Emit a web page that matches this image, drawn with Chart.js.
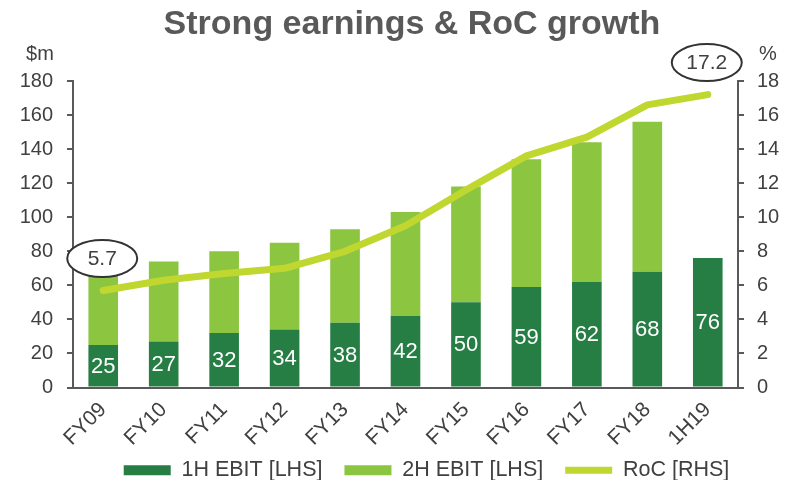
<!DOCTYPE html>
<html>
<head>
<meta charset="utf-8">
<script src="https://cdn.jsdelivr.net/npm/chart.js@4/dist/chart.umd.min.js"></script>
<style>
  html, body { margin: 0; padding: 0; background: #fff; overflow: hidden; }
  #wrap { width: 791px; height: 480px; }
</style>
</head>
<body>
<div id="wrap"><canvas id="myChart" width="791" height="480"></canvas></div>
<script>
var chart_title = 'Strong earnings & RoC growth';
var categories = ['FY09', 'FY10', 'FY11', 'FY12', 'FY13', 'FY14', 'FY15', 'FY16', 'FY17', 'FY18', '1H19'];
var ebit_1h = [25, 27, 32, 34, 38, 42, 50, 59, 62, 68, 76];
var ebit_2h = [43, 47, 48, 51, 55, 61, 68, 75, 82, 88, null];
var roc = [5.7, 6.3, 6.7, 7.0, 8.0, 9.5, 11.6, 13.6, 14.7, 16.6, 17.2];
var circled = [0, 10];

var dark_green = '#267E45';
var light_green = '#8CC53F';
var lime = '#C0D72F';
var axis_grey = '#595959';
var text_grey = '#404040';
var font_name = "'Liberation Sans', Arial, sans-serif";

// white numbers inside the 1H bars, circled RoC values, title and axis unit labels
var extras = {
        id: 'extras',
        afterLayout: function (chart) {
                // the legend sits a little right of centre in the original
                chart.legend.left += 31;
                chart.legend.right += 31;
                // let the rotated x labels run past the axis box without clipping
                chart.scales.x.bottom = chart.height;
        },
        afterDatasetsDraw: function (chart) {
                var ctx = chart.ctx;
                var bars = chart.getDatasetMeta(0).data;
                ctx.save();
                ctx.font = '22px ' + font_name;
                ctx.fillStyle = '#ffffff';
                ctx.textAlign = 'center';
                ctx.textBaseline = 'middle';
                for (var i = 0; i < bars.length; i++) {
                        ctx.fillText(ebit_1h[i], bars[i].x, (bars[i].y + bars[i].base) / 2 + 1);
                }

                var pts = chart.getDatasetMeta(2).data;
                for (var idx of circled) {
                        var p = pts[idx];
                        var cx = p.x - 1, cy = p.y - 32;
                        ctx.beginPath();
                        ctx.ellipse(cx, cy, 35, 18.5, 0, 0, Math.PI * 2);
                        ctx.fillStyle = '#ffffff';
                        ctx.fill();
                        ctx.lineWidth = 2;
                        ctx.strokeStyle = '#333333';
                        ctx.stroke();
                        ctx.fillStyle = text_grey;
                        ctx.font = '21px ' + font_name;
                        ctx.fillText(roc[idx].toFixed(1), cx, cy + 1);
                }

                ctx.font = '20px ' + font_name;
                ctx.fillStyle = text_grey;
                ctx.fillText('$m', 40, 54);
                ctx.fillText('%', 768, 54);

                ctx.font = 'bold 34px ' + font_name;
                ctx.fillStyle = '#595959';
                ctx.fillText(chart_title, 412, 25);
                ctx.restore();
        }
};

var ctx = document.getElementById('myChart');
var myChart = new Chart(ctx, {
        type: 'bar',
        data: {
                labels: categories,
                datasets: [{
                        label: '1H EBIT [LHS]',
                        data: ebit_1h,
                        backgroundColor: dark_green,
                        borderWidth: 0,
                        pointStyle: 'rect',
                        yAxisID: 'y',
                        order: 2
                }, {
                        label: '2H EBIT [LHS]',
                        data: ebit_2h,
                        backgroundColor: light_green,
                        borderWidth: 0,
                        pointStyle: 'rect',
                        yAxisID: 'y',
                        order: 2
                }, {
                        type: 'line',
                        label: 'RoC [RHS]',
                        data: roc,
                        borderColor: lime,
                        backgroundColor: lime,
                        borderWidth: 7,
                        borderCapStyle: 'round',
                        borderJoinStyle: 'round',
                        pointRadius: 0,
                        pointStyle: 'line',
                        tension: 0,
                        yAxisID: 'y1',
                        order: 0
                }]
        },
        options: {
                responsive: false,
                animation: false,
                devicePixelRatio: 1,
                datasets: {
                        bar: { categoryPercentage: 1, barPercentage: 0.49 }
                },
                layout: { padding: { left: 0, right: 0, top: 81, bottom: -11 } },
                plugins: {
                        title: { display: false },
                        legend: {
                                position: 'bottom',
                                labels: {
                                        usePointStyle: true,
                                        pointStyleWidth: 47,
                                        boxHeight: 10,
                                        color: text_grey,
                                        padding: 22,
                                        font: { family: font_name, size: 21.5 },
                                        sort: function (a, b) { return a.datasetIndex - b.datasetIndex; }
                                }
                        },
                        tooltip: { enabled: false }
                },
                scales: {
                        x: {
                                stacked: true,
                                afterFit: function (scale) { scale.height = 50; },
                                grid: { display: false },
                                border: { display: true, color: axis_grey, width: 2 },
                                ticks: {
                                        color: text_grey,
                                        font: { family: font_name, size: 21 },
                                        maxRotation: 45,
                                        minRotation: 45,
                                        padding: 2
                                }
                        },
                        y: {
                                stacked: true,
                                position: 'left',
                                min: 0,
                                max: 180,
                                afterFit: function (scale) { scale.width = 73; },
                                grid: { drawOnChartArea: false, drawTicks: true, tickLength: 6, color: axis_grey, lineWidth: 2 },
                                border: { display: true, color: axis_grey, width: 2 },
                                ticks: { stepSize: 20, padding: 14, color: text_grey, font: { family: font_name, size: 20 } }
                        },
                        y1: {
                                position: 'right',
                                min: 0,
                                max: 18,
                                afterFit: function (scale) { scale.width = 53; },
                                grid: { drawOnChartArea: false, drawTicks: true, tickLength: 6, color: axis_grey, lineWidth: 2 },
                                border: { display: true, color: axis_grey, width: 2 },
                                ticks: { stepSize: 2, padding: 13, color: text_grey, font: { family: font_name, size: 20 } }
                        }
                }
        },
        plugins: [extras]
});
</script>
</body>
</html>
